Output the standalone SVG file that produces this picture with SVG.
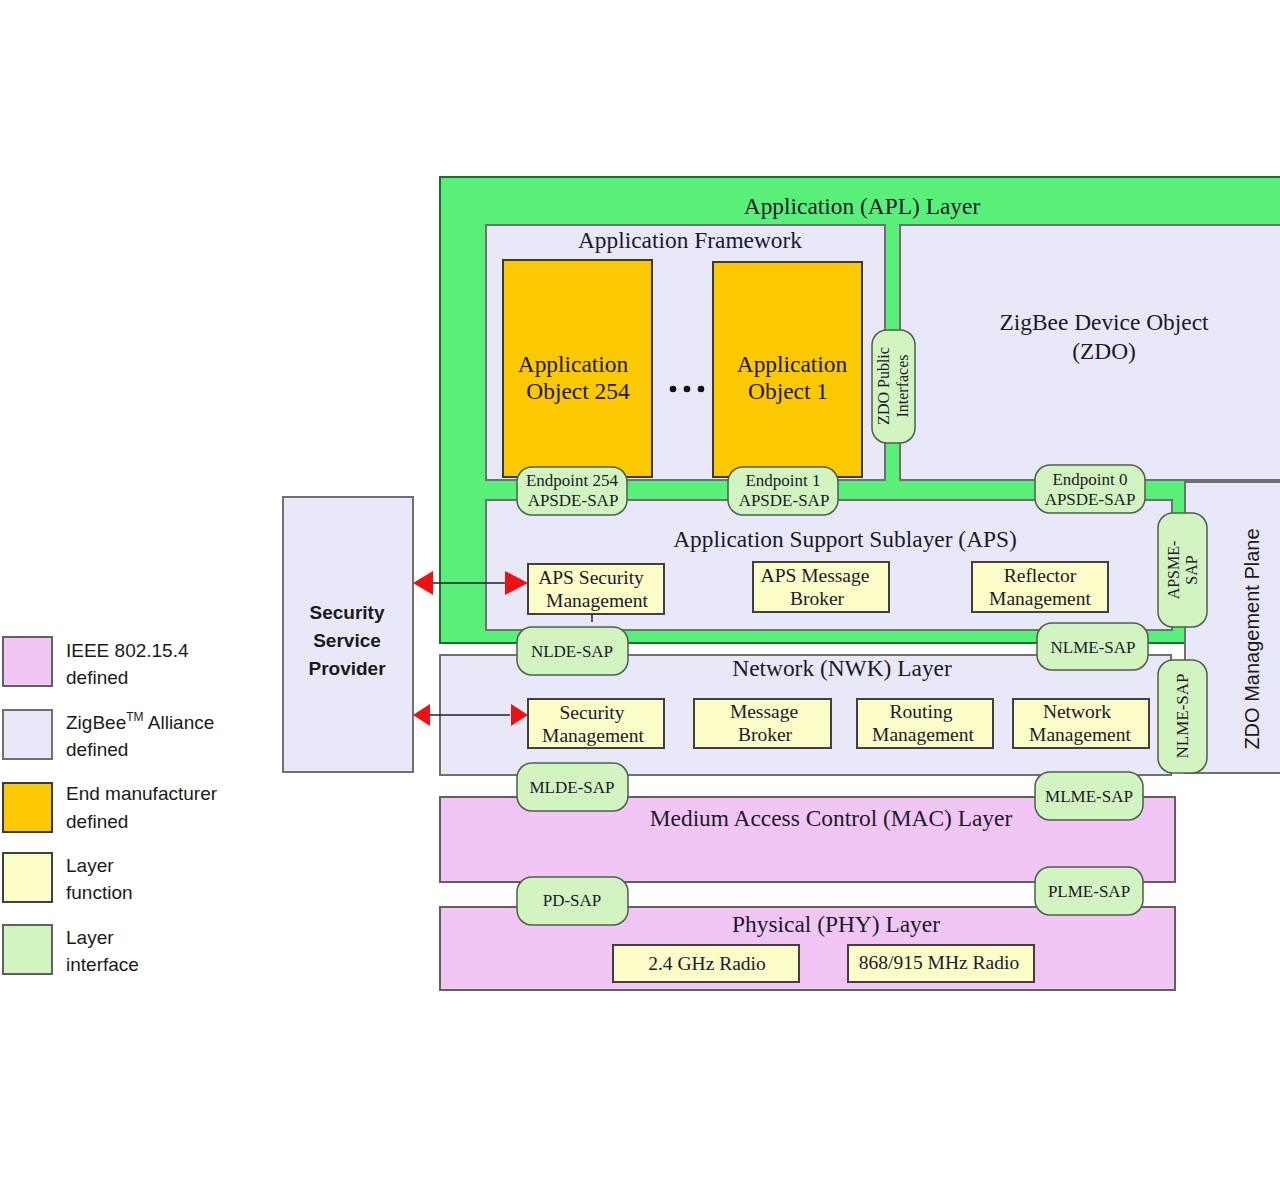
<svg xmlns="http://www.w3.org/2000/svg" width="1280" height="1190" viewBox="0 0 1280 1190">
<style>
.serif{font-family:"Liberation Serif","Times New Roman",serif;fill:#1a1a2a}
.sans{font-family:"Liberation Sans",Arial,sans-serif;fill:#1a1a1a}
.lav{fill:#e8e8f8;stroke:#707070;stroke-width:2}
.pink{fill:#f2c6f4;stroke:#606060;stroke-width:2}
.orange{fill:#fcc800;stroke:#3a3a3a;stroke-width:2}
.yel{fill:#fcfcc8;stroke:#404040;stroke-width:2}
.pill{fill:#d2f4c0;stroke:#4d5e4d;stroke-width:1.5}
.green{fill:#58f078;stroke:#1e6e30;stroke-width:2}
.t22{font-size:23.4px;text-anchor:middle}
.t17{font-size:19.5px;text-anchor:middle}
.t15{font-size:17px;text-anchor:middle}
.tv{font-size:16px;text-anchor:middle}
.leg{font-size:19px}
.conn{stroke:#222;stroke-width:1.5;fill:none}
.head{fill:#ee1111}
</style>
<rect width="1280" height="1190" fill="#ffffff"/>

<!-- Legend -->
<g id="legend">
<rect x="3" y="637" width="49" height="49" class="pink"/>
<text x="66" y="657" class="sans leg">IEEE 802.15.4</text>
<text x="66" y="684" class="sans leg">defined</text>
<rect x="3" y="710" width="49" height="49" class="lav"/>
<text x="66" y="729" class="sans leg">ZigBee<tspan font-size="12" dy="-8">TM</tspan><tspan dy="8"> Alliance</tspan></text>
<text x="66" y="756" class="sans leg">defined</text>
<rect x="3" y="783" width="49" height="49" class="orange"/>
<text x="66" y="800" class="sans leg">End manufacturer</text>
<text x="66" y="828" class="sans leg">defined</text>
<rect x="3" y="853" width="49" height="49" class="yel"/>
<text x="66" y="872" class="sans leg">Layer</text>
<text x="66" y="899" class="sans leg">function</text>
<rect x="3" y="925" width="49" height="49" fill="#d2f4c0" stroke="#606060" stroke-width="2"/>
<text x="66" y="944" class="sans leg">Layer</text>
<text x="66" y="971" class="sans leg">interface</text>
</g>

<!-- Security Service Provider -->
<g id="ssp">
<rect x="283" y="497" width="130" height="275" class="lav"/>
<text x="347" y="619" class="sans" font-size="19" font-weight="bold" text-anchor="middle">Security</text>
<text x="347" y="647" class="sans" font-size="19" font-weight="bold" text-anchor="middle">Service</text>
<text x="347" y="675" class="sans" font-size="19" font-weight="bold" text-anchor="middle">Provider</text>
</g>

<!-- APL layer -->
<g id="apl">
<path d="M440,177 H1290 V480 H1185 V643 H440 Z" class="green"/>
<text x="862" y="214" class="serif t22">Application (APL) Layer</text>
</g>

<g id="zdo-mgmt">
<rect x="1185" y="482" width="105" height="291" class="lav"/>
<text transform="translate(1259,639) rotate(-90)" class="sans" font-size="20" text-anchor="middle">ZDO Management Plane</text>
</g>

<g id="app-framework">
<rect x="486" y="225" width="399" height="255" class="lav"/>
<text x="690" y="248" class="serif t22">Application Framework</text>
</g>

<g id="app-object-254">
<rect x="503" y="260" width="149" height="217" class="orange"/>
<text x="573" y="372" class="serif t22">Application</text>
<text x="578" y="399" class="serif t22">Object 254</text>
</g>
<g id="dots">
<circle cx="673" cy="389" r="3.3" fill="#111"/>
<circle cx="687" cy="389" r="3.3" fill="#111"/>
<circle cx="701" cy="389" r="3.3" fill="#111"/>
</g>
<g id="app-object-1">
<rect x="713" y="262" width="149" height="215" class="orange"/>
<text x="792" y="372" class="serif t22">Application</text>
<text x="788" y="399" class="serif t22">Object 1</text>
</g>

<g id="zdo">
<rect x="900" y="225" width="390" height="255" class="lav"/>
<text x="1104" y="330" class="serif t22">ZigBee Device Object</text>
<text x="1104" y="359" class="serif t22">(ZDO)</text>
</g>

<g id="aps">
<rect x="486" y="500" width="686" height="130" class="lav"/>
<text x="845" y="547" class="serif t22">Application Support Sublayer (APS)</text>
</g>
<g id="aps-security">
<rect x="528" y="564" width="136" height="50" class="yel"/>
<text x="591" y="584" class="serif t17">APS Security</text>
<text x="597" y="607" class="serif t17">Management</text>
</g>
<g id="aps-message-broker">
<rect x="753" y="562" width="136" height="50" class="yel"/>
<text x="815" y="582" class="serif t17">APS Message</text>
<text x="817" y="605" class="serif t17">Broker</text>
</g>
<g id="reflector-mgmt">
<rect x="972" y="562" width="136" height="50" class="yel"/>
<text x="1040" y="582" class="serif t17">Reflector</text>
<text x="1040" y="605" class="serif t17">Management</text>
</g>

<!-- NWK -->
<g id="nwk">
<rect x="440" y="655" width="731" height="120" class="lav"/>
<text x="842" y="676" class="serif t22">Network (NWK) Layer</text>
</g>
<g id="nwk-security">
<rect x="528" y="699" width="136" height="49" class="yel"/>
<text x="592" y="719" class="serif t17">Security</text>
<text x="593" y="742" class="serif t17">Management</text>
</g>
<g id="nwk-message-broker">
<rect x="694" y="699" width="137" height="49" class="yel"/>
<text x="764" y="718" class="serif t17">Message</text>
<text x="765" y="741" class="serif t17">Broker</text>
</g>
<g id="routing-mgmt">
<rect x="857" y="699" width="136" height="49" class="yel"/>
<text x="921" y="718" class="serif t17">Routing</text>
<text x="923" y="741" class="serif t17">Management</text>
</g>
<g id="network-mgmt">
<rect x="1013" y="699" width="136" height="49" class="yel"/>
<text x="1077" y="718" class="serif t17">Network</text>
<text x="1080" y="741" class="serif t17">Management</text>
</g>

<!-- MAC -->
<g id="mac">
<rect x="440" y="797" width="735" height="85" class="pink"/>
<text x="831" y="826" class="serif t22">Medium Access Control (MAC) Layer</text>
</g>

<!-- PHY -->
<g id="phy">
<rect x="440" y="907" width="735" height="83" class="pink"/>
<text x="836" y="932" class="serif t22">Physical (PHY) Layer</text>
</g>
<g id="radio-24">
<rect x="613" y="945" width="186" height="37" class="yel"/>
<text x="707" y="970" class="serif t17">2.4 GHz Radio</text>
</g>
<g id="radio-868">
<rect x="848" y="945" width="186" height="37" class="yel"/>
<text x="939" y="969" class="serif t17">868/915 MHz Radio</text>
</g>

<!-- Connectors -->
<g id="connectors">
<line x1="430" y1="583" x2="508" y2="583" class="conn"/>
<polygon points="413,583 433,571 433,595" class="head"/>
<polygon points="528,583 505,571 505,595" class="head"/>
<line x1="428" y1="715" x2="510" y2="715" class="conn"/>
<polygon points="413,715 430,704 430,726" class="head"/>
<polygon points="528,715 511,704 511,726" class="head"/>
<line x1="592" y1="614" x2="592" y2="622" class="conn"/>
</g>

<!-- SAPs -->
<g id="sap-ep254">
<rect x="517" y="467" width="110" height="48" rx="15" class="pill"/>
<text x="572" y="486" class="serif t15">Endpoint 254</text>
<text x="573" y="506" class="serif t15">APSDE-SAP</text>
</g>
<g id="sap-ep1">
<rect x="728" y="467" width="110" height="48" rx="15" class="pill"/>
<text x="783" y="486" class="serif t15">Endpoint 1</text>
<text x="784" y="506" class="serif t15">APSDE-SAP</text>
</g>
<g id="sap-ep0">
<rect x="1035" y="465" width="110" height="48" rx="15" class="pill"/>
<text x="1090" y="485" class="serif t15">Endpoint 0</text>
<text x="1090" y="505" class="serif t15">APSDE-SAP</text>
</g>
<g id="sap-zdo-public">
<rect x="872" y="330" width="43" height="113" rx="15" class="pill"/>
<text transform="translate(889,386) rotate(-90)" class="serif tv">ZDO Public</text>
<text transform="translate(908,386) rotate(-90)" class="serif tv">Interfaces</text>
</g>
<g id="sap-apsme">
<rect x="1158" y="513" width="49" height="114" rx="15" class="pill"/>
<text transform="translate(1179,570) rotate(-90)" class="serif tv">APSME-</text>
<text transform="translate(1197,570) rotate(-90)" class="serif tv">SAP</text>
</g>
<g id="sap-nlde">
<rect x="517" y="627" width="111" height="48" rx="15" class="pill"/>
<text x="572" y="657" class="serif t15">NLDE-SAP</text>
</g>
<g id="sap-nlme">
<rect x="1037" y="623" width="111" height="47" rx="15" class="pill"/>
<text x="1093" y="653" class="serif t15">NLME-SAP</text>
</g>
<g id="sap-nlme-v">
<rect x="1158" y="660" width="49" height="113" rx="15" class="pill"/>
<text transform="translate(1188,716) rotate(-90)" class="serif t15">NLME-SAP</text>
</g>
<g id="sap-mlde">
<rect x="517" y="763" width="111" height="48" rx="15" class="pill"/>
<text x="572" y="793" class="serif t15">MLDE-SAP</text>
</g>
<g id="sap-mlme">
<rect x="1035" y="772" width="108" height="48" rx="15" class="pill"/>
<text x="1089" y="802" class="serif t15">MLME-SAP</text>
</g>
<g id="sap-pd">
<rect x="517" y="877" width="111" height="48" rx="15" class="pill"/>
<text x="572" y="906" class="serif t15">PD-SAP</text>
</g>
<g id="sap-plme">
<rect x="1035" y="867" width="108" height="48" rx="15" class="pill"/>
<text x="1089" y="897" class="serif t15">PLME-SAP</text>
</g>
</svg>
